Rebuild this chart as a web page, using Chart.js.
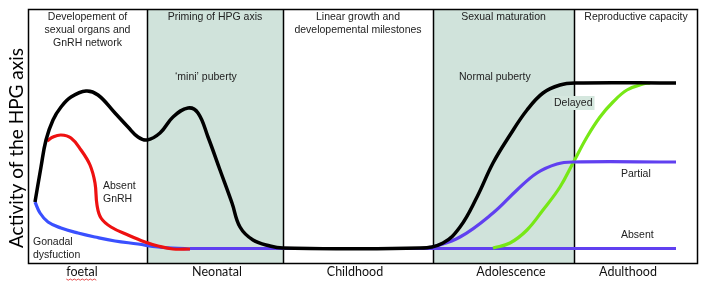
<!DOCTYPE html>
<html>
<head>
<meta charset="utf-8">
<script src="https://cdn.jsdelivr.net/npm/chart.js@4.4.1/dist/chart.umd.min.js"></script>
<style>
  html, body { margin: 0; padding: 0; background: #fff; }
  #wrap { width: 703px; height: 282px; }
</style>
</head>
<body>
<div id="wrap"><canvas id="hpgChart" width="703" height="282"></canvas></div>
<script>
// --- data (time in arbitrary units along the life course, activity in arbitrary units) ---
const phaseBounds = [0, 119, 255, 405, 546, 670];
const phaseShaded = [false, true, false, true, false];
const phaseHeaders = [
  ['Developement of', 'sexual organs and', 'GnRH network'],
  ['Priming of HPG axis'],
  ['Linear growth and', 'developemental milestones'],
  ['Sexual maturation'],
  ['Reproductive capacity']
];
const phaseNames = ['foetal', 'Neonatal', 'Childhood', 'Adolescence', 'Adulthood'];
const phaseNameAt = [54, 189, 327, 483, 600];

const normalT = [7, 13, 18, 25, 33, 43, 58, 70, 87, 100, 110, 119, 132, 145, 160, 170, 180, 192, 204, 212, 225, 242, 255, 392, 415, 432, 449, 465, 482, 499, 515, 532, 547, 648];
const normalY = [61, 96, 123, 143, 156, 166, 172, 168, 150, 136, 126, 123, 130, 146, 155, 150, 126, 93, 60, 36, 23, 17, 15, 15, 20, 36, 66, 100, 128, 153, 170, 178, 180, 180];

const gnrhT = [19, 25, 33, 43, 53, 62, 67, 69, 73, 83, 100, 117, 130, 145, 162];
const gnrhY = [122, 126, 128, 125, 113, 98, 80, 58, 45, 36, 28, 21, 17, 14, 14];

const gonadalT = [7, 12, 20, 33, 50, 67, 87, 110, 130, 162];
const gonadalY = [61, 50, 41, 35, 30, 26, 22, 19, 16, 14];

const absentT = [162, 648];
const absentY = [14.5, 14.5];

const partialT = [402, 432, 465, 489, 509, 529, 545, 648];
const partialY = [15, 26, 50, 73, 90, 99, 101, 101];

const delayedT = [465, 482, 499, 515, 532, 545, 559, 572, 585, 599, 615, 622];
const delayedY = [15, 20, 33, 53, 76, 100, 126, 146, 161, 173, 179, 180];

const notes = [
  { lines: ['\u2018mini\u2019 puberty'], t: 147, y: 186 },
  { lines: ['Normal puberty'], t: 431, y: 186 },
  { lines: ['Delayed'], t: 526, y: 160, box: true },
  { lines: ['Absent', 'GnRH'], t: 75, y: 77 },
  { lines: ['Gonadal', 'dysfuction'], t: 5, y: 21 },
  { lines: ['Partial'], t: 593, y: 89 },
  { lines: ['Absent'], t: 593, y: 28 }
];

const pts = (ts, ys) => ts.map((t, i) => ({ x: t, y: ys[i] }));

function line(data, color, width, order) {
  return {
    data: data,
    borderColor: color,
    borderWidth: width,
    pointRadius: 0,
    fill: false,
    tension: 0.4,
    borderCapStyle: 'butt',
    borderJoinStyle: 'round',
    order: order
  };
}

// phases, borders and labels
const phasePlugin = {
  id: 'phases',
  beforeDatasetsDraw(chart) {
    const { ctx, chartArea: a, scales: { x } } = chart;
    ctx.save();
    for (let i = 0; i < phaseShaded.length; i++) {
      if (!phaseShaded[i]) continue;
      const x0 = x.getPixelForValue(phaseBounds[i]);
      const x1 = x.getPixelForValue(phaseBounds[i + 1]);
      ctx.fillStyle = '#d0e3db';
      ctx.fillRect(x0, a.top, x1 - x0, a.bottom - a.top);
    }
    ctx.strokeStyle = '#000';
    ctx.lineWidth = 1.5;
    for (let i = 1; i < phaseBounds.length - 1; i++) {
      const px = Math.round(x.getPixelForValue(phaseBounds[i])) + 0.5;
      ctx.beginPath();
      ctx.moveTo(px, a.top);
      ctx.lineTo(px, a.bottom);
      ctx.stroke();
    }
    ctx.lineWidth = 1.5;
    ctx.strokeRect(a.left + 0.5, a.top + 0.5, a.right - a.left - 1, a.bottom - a.top);

    // headers
    ctx.fillStyle = '#222';
    ctx.font = '10.5px "Liberation Sans", Arial, sans-serif';
    ctx.textAlign = 'center';
    ctx.textBaseline = 'middle';
    phaseHeaders.forEach((lines, i) => {
      const cx = x.getPixelForValue((phaseBounds[i] + phaseBounds[i + 1]) / 2);
      lines.forEach((s, j) => ctx.fillText(s, cx, a.top + 8 + j * 13));
    });

    // bottom phase names
    ctx.fillStyle = '#111';
    ctx.font = '12.5px Lato, "Open Sans", sans-serif';
    phaseNames.forEach((s, i) => {
      const cx = x.getPixelForValue(phaseNameAt[i]);
      ctx.fillText(s, cx, a.bottom + 9);
      if (i === 0) {
        // spellcheck squiggle under "foetal"
        const w = ctx.measureText(s).width;
        ctx.strokeStyle = '#e02020';
        ctx.lineWidth = 0.8;
        ctx.beginPath();
        for (let k = 0; k <= w; k += 2) {
          const yy = a.bottom + 16 + ((k / 2) % 2 ? 1.2 : 0);
          if (k === 0) ctx.moveTo(cx - w / 2 + k, yy); else ctx.lineTo(cx - w / 2 + k, yy);
        }
        ctx.stroke();
      }
    });

    // y title
    ctx.save();
    ctx.fillStyle = '#000';
    ctx.font = '19px Lato, "Open Sans", sans-serif';
    ctx.translate(a.left - 11, (a.top + a.bottom) / 2 + 12);
    ctx.rotate(-Math.PI / 2);
    ctx.fillText('Activity of the HPG axis', 0, 0);
    ctx.restore();
    ctx.restore();
  },
  afterDatasetsDraw(chart) {
    const { ctx, scales: { x, y } } = chart;
    ctx.save();
    ctx.font = '10.5px "Liberation Sans", Arial, sans-serif';
    ctx.textAlign = 'left';
    ctx.textBaseline = 'middle';
    notes.forEach(n => {
      const px = x.getPixelForValue(n.t);
      const py = y.getPixelForValue(n.y);
      if (n.box) {
        const w = ctx.measureText(n.lines[0]).width;
        ctx.fillStyle = '#d5e7de';
        ctx.fillRect(px - 2, py - 7, w + 4, 14);
      }
      ctx.fillStyle = '#222';
      n.lines.forEach((s, j) => ctx.fillText(s, px, py + j * 13));
    });
    ctx.restore();
  }
};

new Chart(document.getElementById('hpgChart').getContext('2d'), {
  type: 'line',
  data: {
    datasets: [
      line(pts(normalT, normalY), '#000000', 3.5, 0),
      line(pts(partialT, partialY), '#6040f0', 3.2, 1),
      line(pts(delayedT, delayedY), '#77e816', 3.2, 2),
      line(pts(gnrhT, gnrhY), '#ee1111', 3.2, 3),
      line(pts(absentT, absentY), '#6040f0', 3.2, 4),
      line(pts(gonadalT, gonadalY), '#3a50ff', 3.2, 5)
    ]
  },
  options: {
    responsive: false,
    animation: false,
    layout: { padding: { left: 28, top: 9, right: 5, bottom: 19 } },
    plugins: { legend: { display: false }, tooltip: { enabled: false } },
    scales: {
      x: { type: 'linear', min: 0, max: 670, display: false },
      y: { type: 'linear', min: 0, max: 254, display: false }
    }
  },
  plugins: [phasePlugin]
});
</script>
</body>
</html>
